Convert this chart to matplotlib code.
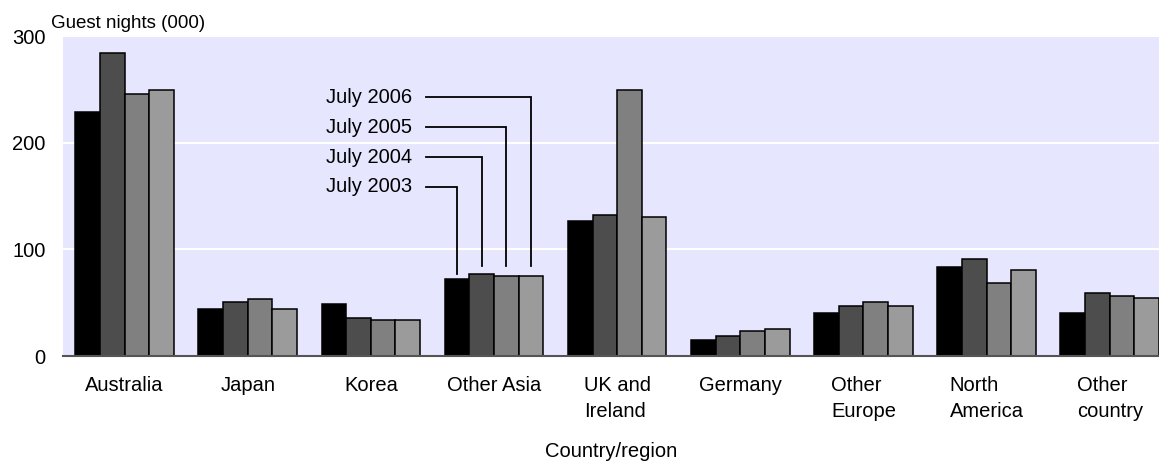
import matplotlib
matplotlib.use("Agg")
import matplotlib.pyplot as plt
import numpy as np

categories = ["Australia", "Japan", "Korea", "Other Asia", "UK and\nIreland",
              "Germany", "Other\nEurope", "North\nAmerica", "Other\ncountry"]
series_names = ["July 2003", "July 2004", "July 2005", "July 2006"]
july_2003 = [229, 44, 49, 72, 127, 15, 40, 83, 40]
july_2004 = [284, 51, 36, 77, 132, 19, 47, 91, 59]
july_2005 = [246, 53, 34, 75, 249, 23, 51, 68, 56]
july_2006 = [249, 44, 34, 75, 130, 25, 47, 81, 54]
yticks = [0, 100, 200, 300]

series = [july_2003, july_2004, july_2005, july_2006]
colors = ["#000000", "#4d4d4d", "#808080", "#9b9b9b"]

plt.rcParams['font.family'] = ['Liberation Sans', 'DejaVu Sans']

W, H = 1159, 468
fig = plt.figure(figsize=(W / 100, H / 100), dpi=100)
ax = fig.add_axes([63 / W, 112 / H, 1 - 63 / W, 320 / H])
ax.set_facecolor("#e6e6ff")

x = np.arange(len(categories))
bw = 0.2
offsets = [-1.5 * bw, -0.5 * bw, 0.5 * bw, 1.5 * bw]
for vals, off, c, name in zip(series, offsets, colors, series_names):
    ax.bar(x + off, vals, width=bw, color=c, edgecolor="black", linewidth=1.1,
           label=name, zorder=3)

ax.set_xlim(-0.5, 8.4)
ax.set_ylim(0, 300)
ax.set_yticks(yticks)
ax.yaxis.grid(True, color="white", linewidth=1.5, zorder=1)
ax.set_axisbelow(True)
for s in ["left", "right", "top"]:
    ax.spines[s].set_visible(False)
ax.spines["bottom"].set_color("#555555")
ax.spines["bottom"].set_linewidth(1.5)
ax.spines["bottom"].set_zorder(4)

ax.set_xticks(x)
ax.set_xticklabels(categories, fontsize=14.5, linespacing=1.45)
for t in ax.get_xticklabels():
    t.set_multialignment("left")
ax.tick_params(axis="x", length=0, pad=14.5)
ax.tick_params(axis="y", length=0, pad=12.5, labelsize=14.5)

ax.set_xlabel("Country/region", fontsize=14.5, labelpad=15)
fig.text(51 / W, 1 - 24 / H, "Guest nights (000)", fontsize=13.5,
         ha="left", va="center")

# Callout labels for the Other Asia group
gi = 3
text_y = [158.5, 186.5, 214.5, 242.5]
tip_gap = [5, 7, 9, 9]
x_text = 2.335
x_line0 = 2.45
for k in range(4):
    bx = gi + offsets[k]
    ty = text_y[k]
    ax.text(x_text, ty, series_names[k], fontsize=14.5, ha="right", va="center",
            zorder=5)
    ax.plot([x_line0, bx, bx], [ty, ty, series[k][gi] + tip_gap[k]],
            color="black", linewidth=1.3, zorder=5, solid_joinstyle="miter")

fig.savefig("out.png", dpi=100)
